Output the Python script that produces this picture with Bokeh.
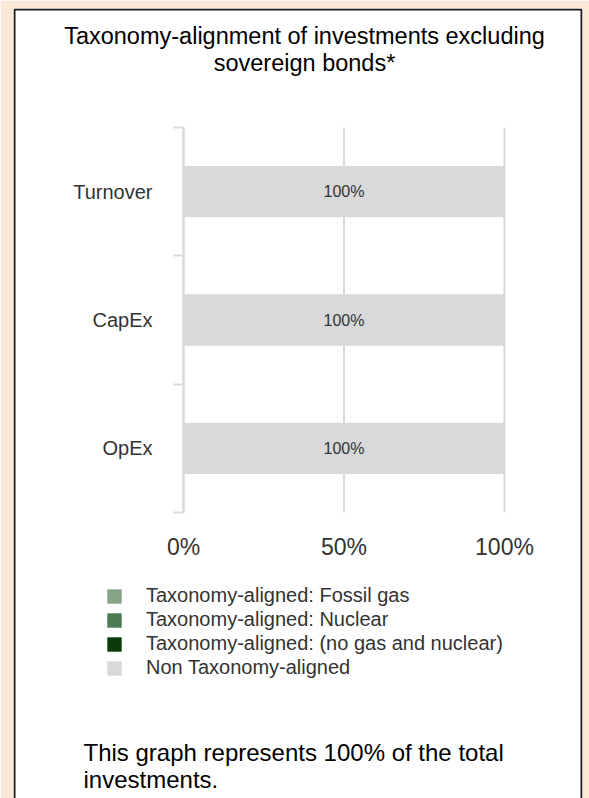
from bokeh.plotting import figure
from bokeh.models import (ColumnDataSource, Range1d, LinearAxis, FixedTicker,
                          PrintfTickFormatter, BoxAnnotation, Label)
from bokeh.core.properties import value
from bokeh.embed import file_html
from bokeh.resources import INLINE

# ---------------- data ----------------
categories = ["Turnover", "CapEx", "OpEx"]          # top to bottom
fossil_gas = [0, 0, 0]
nuclear = [0, 0, 0]
aligned_no_gas_nuclear = [0, 0, 0]
non_aligned = [100, 100, 100]
series_names = ["Taxonomy-aligned: Fossil gas",
                "Taxonomy-aligned: Nuclear",
                "Taxonomy-aligned: (no gas and nuclear)",
                "Non Taxonomy-aligned"]
series_colors = ["#86a386", "#4b7b50", "#0b3b0b", "#d9d9d9"]
x_ticks = [0, 50, 100]
title_lines = ["Taxonomy-alignment of investments excluding", "sovereign bonds*"]
footer_lines = ["This graph represents 100% of the total", "investments."]

# ---------------- layout constants (pixels) ----------------
W, H = 589, 798
FL, FR, FT, FB = 13, 582, 8, 798        # frame (the white panel incl. its border)
AX_L, AX_R, AX_T, AX_B = 183, 504, 127, 512   # plot area of the bar chart
FONT = "Liberation Sans"
BEIGE = "#FBE8D6"
GRID = "#d9d9d9"
TEXT = "#333333"

n = len(categories)
x_lo, x_hi = x_ticks[0], x_ticks[-1]
kx = (AX_R - AX_L) / (x_hi - x_lo)
ky = (AX_B - AX_T) / n
x_range = Range1d(x_lo - (AX_L - FL) / kx, x_hi + (FR - AX_R) / kx)
y_range = Range1d(0 - (FB - AX_B) / ky, n + (AX_T - FT) / ky)

# category positions: top category at the top
ypos = [n - 0.5 - i for i in range(n)]
series_keys = ["fossil", "nuclear", "aligned", "non"]
series_vals = [fossil_gas, nuclear, aligned_no_gas_nuclear, non_aligned]
src = ColumnDataSource(dict(cat=categories, y=ypos,
                            **{k: v for k, v in zip(series_keys, series_vals)}))

p = figure(width=W, height=H, x_range=x_range, y_range=y_range,
           x_axis_location=None, y_axis_location=None,
           toolbar_location=None, output_backend="svg",
           min_border_left=FL, min_border_right=W - FR,
           min_border_top=FT, min_border_bottom=H - FB)
p.title.visible = False
p.border_fill_color = BEIGE
p.background_fill_color = "white"
p.outline_line_color = None
p.xgrid.visible = False
p.ygrid.visible = False

# dark frame of the white panel (open at the bottom)
p.add_layout(BoxAnnotation(left=FL + 1, right=FR - 1, top=FT + 1, bottom=H + 40,
                           left_units="canvas", right_units="canvas",
                           top_units="canvas", bottom_units="canvas",
                           fill_alpha=0, line_color="#1a1a1a", line_alpha=1.0,
                           line_width=2))

# vertical grid lines within the bar-chart area
p.segment(x0=x_ticks, y0=[0] * len(x_ticks), x1=x_ticks, y1=[n] * len(x_ticks),
          line_color=GRID, line_width=2)

# bars
p.hbar_stack(series_keys, y="y", height=0.4, source=src,
             fill_color=series_colors, line_color=None,
             legend_label=series_names)

# bar labels
lx, ly, lt = [], [], []
for i in range(n):
    left = 0
    for vals in series_vals:
        v = vals[i]
        if v > 0:
            lx.append(left + v / 2)
            ly.append(ypos[i])
            lt.append(f"{v:.0f}%")
        left += v
lab_src = ColumnDataSource(dict(x=lx, y=ly, t=lt))
p.text(x="x", y="y", text="t", source=lab_src, text_font=value(FONT),
       text_font_size="16px", text_color=TEXT, text_align="center",
       text_baseline="middle")

# y axis: labels at category centres, ticks at category boundaries
yax = LinearAxis(fixed_location=x_lo, bounds=(0, n),
                 ticker=FixedTicker(ticks=ypos, minor_ticks=list(range(n + 1))),
                 major_label_overrides={yv: c for yv, c in zip(ypos, categories)})
yax.axis_line_color = GRID
yax.axis_line_width = 2
yax.major_tick_line_color = None
yax.major_tick_in = 0
yax.major_tick_out = 0
yax.minor_tick_line_color = GRID
yax.minor_tick_line_width = 2
yax.minor_tick_in = 0
yax.minor_tick_out = 10
yax.major_label_standoff = 21
yax.major_label_text_font = FONT
yax.major_label_text_font_size = "20px"
yax.major_label_text_color = TEXT
p.add_layout(yax, "left")

# x axis
xax = LinearAxis(fixed_location=0, bounds=(x_lo, x_hi),
                 ticker=FixedTicker(ticks=x_ticks),
                 formatter=PrintfTickFormatter(format="%d%%"))
xax.axis_line_color = None
xax.major_tick_line_color = None
xax.minor_tick_line_color = None
xax.major_tick_in = 0
xax.major_tick_out = 0
xax.minor_tick_in = 0
xax.minor_tick_out = 0
xax.major_label_standoff = 21
xax.major_label_text_font = FONT
xax.major_label_text_font_size = "23px"
xax.major_label_text_color = TEXT
p.add_layout(xax, "below")

# legend
leg = p.legend[0]
leg_left, leg_bottom = 105, 679
leg.location = (leg_left - FL, FB - leg_bottom)
leg.orientation = "vertical"
leg.glyph_width = 18
leg.glyph_height = 18
leg.label_standoff = 23
leg.spacing = 1
leg.padding = 0
leg.margin = 0
leg.border_line_color = None
leg.background_fill_alpha = 0
leg.label_text_font = FONT
leg.label_text_font_size = "20px"
leg.label_text_color = TEXT

# title and footer text
for txt, yb in zip(title_lines, [35.5, 62]):
    p.add_layout(Label(x=304, y=yb, x_units="canvas", y_units="canvas", text=txt,
                       text_align="center", text_baseline="alphabetic",
                       text_font=FONT, text_font_size="23.5px", text_color="#000000"))
for txt, yb in zip(footer_lines, [752, 778.5]):
    p.add_layout(Label(x=83, y=yb, x_units="canvas", y_units="canvas", text=txt,
                       text_align="left", text_baseline="alphabetic",
                       text_font=FONT, text_font_size="24px", text_color="#000000"))

open("out.html", "w").write(file_html(p, INLINE))
